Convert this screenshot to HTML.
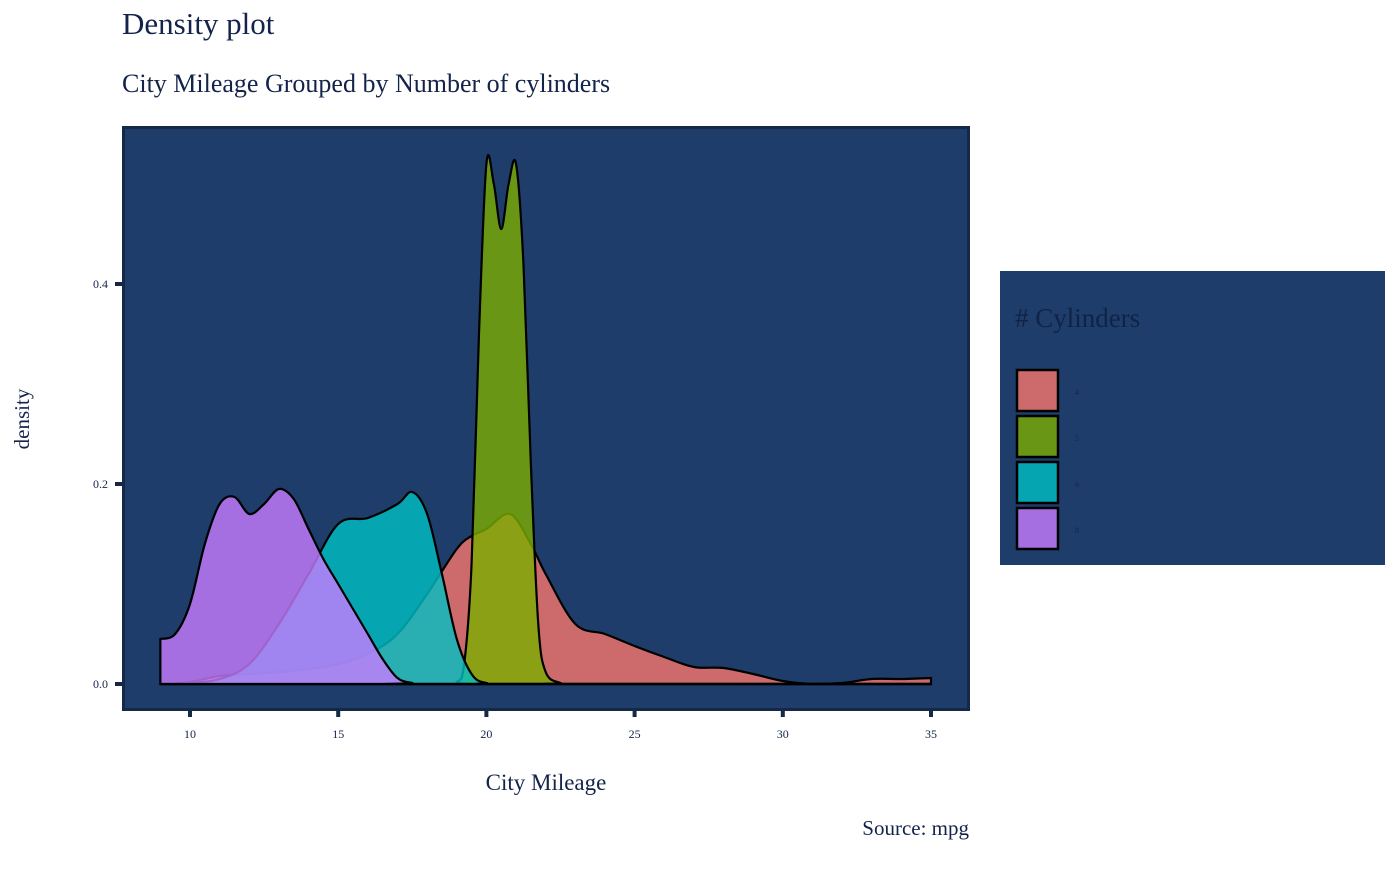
<!DOCTYPE html>
<html><head><meta charset="utf-8"><style>
body{margin:0;background:#fff;}
svg text{font-family:"Liberation Serif",serif;fill:#13234a;}
</style></head><body>
<svg width="1400" height="866" xmlns="http://www.w3.org/2000/svg">
<text x="122" y="34" font-size="31">Density plot</text>
<text x="122" y="92" font-size="26">City Mileage Grouped by Number of cylinders</text>
<rect x="123.5" y="127.5" width="845" height="582" fill="#1e3d6b" stroke="#14284a" stroke-width="3"/>
<g id="marks"></g>
<g id="axes"></g>
<text x="546" y="790" font-size="23" text-anchor="middle">City Mileage</text>
<text transform="translate(29,419) rotate(-90)" font-size="21" text-anchor="middle">density</text>
<text x="969" y="835" font-size="21" text-anchor="end">Source: mpg</text>
<rect x="1000" y="271" width="385" height="294" fill="#1e3d6b"/>
<text x="1015" y="327" font-size="27" style="fill:#0f2347"># Cylinders</text>
<g id="legend"></g>
</svg>
<script>
const groups=["4","5","6","8"];
const colors=["#F8766D","#7CAE00","#00BFC4","#C77CFF"];
const x4=[9,10,11,12,13,14,15,16,17,18,19,19.5,20,20.8,21.5,22,23,24,25,26,27,28,29,30,31,32,33,34,35];
const y4=[0,0.002,0.008,0.01,0.012,0.015,0.02,0.03,0.05,0.09,0.135,0.148,0.155,0.17,0.14,0.11,0.06,0.05,0.038,0.027,0.017,0.016,0.01,0.003,0.0,0.001,0.005,0.005,0.006];
const x5=[9,18.5,19,19.25,19.5,19.75,20,20.25,20.5,20.75,21,21.25,21.5,21.75,22,22.5,23,35];
const y5=[0,0,0.002,0.02,0.12,0.35,0.52,0.5,0.455,0.5,0.52,0.42,0.22,0.06,0.012,0.001,0,0];
const x6=[9,10,11,12,13,14,15,16,17,17.5,18,18.5,19,19.5,20,21,35];
const y6=[0,0.001,0.005,0.02,0.06,0.11,0.16,0.166,0.18,0.192,0.17,0.11,0.045,0.01,0.001,0,0];
const x8=[9,9.5,10,10.5,11,11.5,12,12.5,13,13.5,14,14.5,15,15.5,16,16.5,17,17.5,18,35];
const y8=[0.045,0.05,0.08,0.14,0.18,0.187,0.17,0.18,0.195,0.185,0.155,0.125,0.1,0.075,0.05,0.025,0.006,0.001,0,0];
const xTicks=[10,15,20,25,30,35];
const yTicks=[0,0.2,0.4];
const yTickLabels=["0.0","0.2","0.4"];
const sx=v=>190+(v-10)*29.64;
const sy=v=>684-v*1000;
const NS="http://www.w3.org/2000/svg";
const marks=document.getElementById('marks');
const series=[[x4,y4],[x5,y5],[x6,y6],[x8,y8]];
function smooth(xs,ys){
  const p=xs.map((x,i)=>[sx(x),sy(ys[i])]);
  let d=`M${p[0][0]},${sy(0)} L${p[0][0]},${p[0][1]}`;
  for(let i=0;i<p.length-1;i++){
    const p0=p[Math.max(0,i-1)],p1=p[i],p2=p[i+1],p3=p[Math.min(p.length-1,i+2)];
    let c1y=p1[1]+(p2[1]-p0[1])/6,c2y=p2[1]-(p3[1]-p1[1])/6;
    c1y=Math.min(c1y,sy(0));c2y=Math.min(c2y,sy(0));
    d+=` C${p1[0]+(p2[0]-p0[0])/6},${c1y} ${p2[0]-(p3[0]-p1[0])/6},${c2y} ${p2[0]},${p2[1]}`;
  }
  d+=` L${p[p.length-1][0]},${sy(0)} Z`;
  return d;
}
series.forEach((s,i)=>{
  const path=document.createElementNS(NS,'path');
  path.setAttribute('d',smooth(s[0],s[1]));
  path.setAttribute('fill',colors[i]);
  path.setAttribute('fill-opacity','0.8');
  path.setAttribute('stroke','#000');
  path.setAttribute('stroke-width','2.2');
  
  
  marks.appendChild(path);
});
const axes=document.getElementById('axes');
xTicks.forEach(t=>{
  const l=document.createElementNS(NS,'line');
  l.setAttribute('x1',sx(t));l.setAttribute('x2',sx(t));l.setAttribute('y1',711);l.setAttribute('y2',717);
  l.setAttribute('stroke','#14284a');l.setAttribute('stroke-width','4');
  
  
  axes.appendChild(l);
  const tx=document.createElementNS(NS,'text');
  tx.setAttribute('x',sx(t));tx.setAttribute('y',738);tx.setAttribute('font-size','12');tx.setAttribute('text-anchor','middle');
  tx.textContent=t;
  
  
  axes.appendChild(tx);
});
yTicks.forEach((t,i)=>{
  const l=document.createElementNS(NS,'line');
  l.setAttribute('x1',115);l.setAttribute('x2',122);l.setAttribute('y1',sy(t));l.setAttribute('y2',sy(t));
  l.setAttribute('stroke','#14284a');l.setAttribute('stroke-width','4');
  
  
  axes.appendChild(l);
  const tx=document.createElementNS(NS,'text');
  tx.setAttribute('x',108);tx.setAttribute('y',sy(t)+4);tx.setAttribute('font-size','12');tx.setAttribute('text-anchor','end');
  tx.textContent=yTickLabels[i];
  
  
  axes.appendChild(tx);
});
const legend=document.getElementById('legend');
groups.forEach((g,i)=>{
  const y=370+i*46;
  const r=document.createElementNS(NS,'rect');
  r.setAttribute('x',1017);r.setAttribute('y',y);r.setAttribute('width',41);r.setAttribute('height',41);
  r.setAttribute('fill',colors[i]);r.setAttribute('fill-opacity','0.8');r.setAttribute('stroke','#000');r.setAttribute('stroke-width','2.5');
  
  
  legend.appendChild(r);
  const tx=document.createElementNS(NS,'text');
  tx.setAttribute('x',1075);tx.setAttribute('y',y+25);tx.setAttribute('font-size','8');
  tx.textContent=g;
  
  
  legend.appendChild(tx);
});
</script>
</body></html>
